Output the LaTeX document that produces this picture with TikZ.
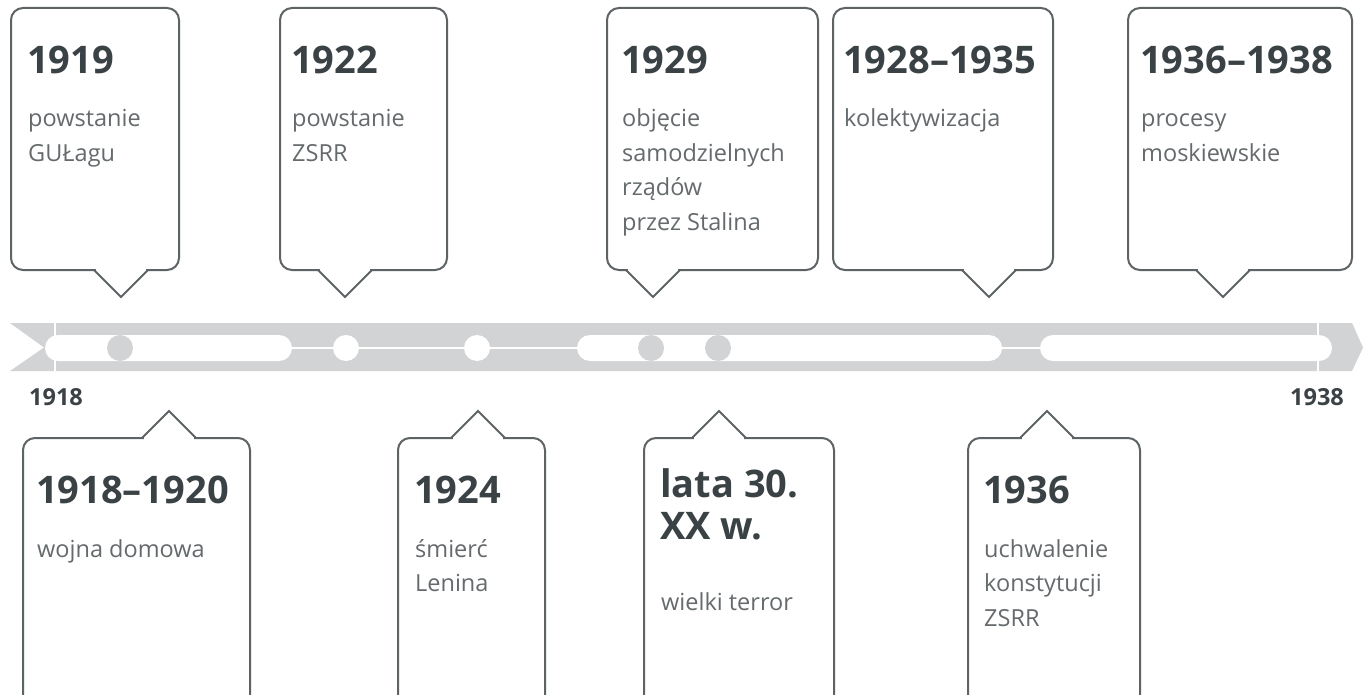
\documentclass[tikz,border=0pt]{standalone}
\usepackage{fontspec}
\setmainfont{Open Sans}
\definecolor{bargray}{HTML}{D1D3D4}
\definecolor{outline}{HTML}{5E6466}
\definecolor{yeartext}{HTML}{3B4245}
\definecolor{bodytext}{HTML}{656A6D}
\tikzset{
  boxline/.style={draw=outline, line width=2pt},
  yearlbl/.style={anchor=base west, inner sep=0pt, text=yeartext, font=\fontsize{38}{42}\selectfont\bfseries},
  bodylbl/.style={anchor=base west, inner sep=0pt, text=bodytext, font=\fontsize{23.5}{34.5}\selectfont},
  axislbl/.style={anchor=base west, inner sep=0pt, text=yeartext, font=\fontsize{23.5}{26}\selectfont\bfseries},
  capsule/.style={fill=white, rounded corners=13pt},
  track/.style={draw=white, line width=2pt},
}
\newcommand\tlTopBox[3]{%
  \draw[boxline, fill=white, rounded corners=12pt] (#1,8) rectangle (#2,270);
  \fill[white] ({#3-25},267) rectangle ({#3+25},273);
  \draw[boxline, line join=miter] ({#3-27},270) -- (#3,297) -- ({#3+27},270);
}
\newcommand\tlBotBox[3]{%
  \draw[boxline, fill=white, rounded corners=12pt] (#1,438) rectangle (#2,730);
  \fill[white] ({#3-25},435) rectangle ({#3+25},441);
  \draw[boxline, line join=miter] ({#3-27},438) -- (#3,411) -- ({#3+27},438);
}
\begin{document}
\begin{tikzpicture}[x=1pt,y=-1pt]
\useasboundingbox (0,0) rectangle (1364,695);
\clip (0,0) rectangle (1364,695);
\fill[white] (0,0) rectangle (1364,695);

% ---- timeline bar ----
\fill[bargray] (10,323) -- (1352,323) -- (1363,347.5) -- (1352,371) -- (10,371) -- (44,347.5) -- cycle;
\fill[capsule] (45,335) rectangle (292,361);
\fill[capsule] (577,335) rectangle (1002,361);
\fill[capsule] (1040,335) rectangle (1332,361);
\draw[track] (55,323) -- (55,371);
\draw[track] (1318,323) -- (1318,371);
\draw[track] (292,348) -- (577,348);
\draw[track] (1002,348) -- (1040,348);
\fill[white] (346,348) circle (13);
\fill[white] (477,348) circle (13);
\fill[bargray] (120,348) circle (13);
\fill[bargray] (651,348) circle (13);
\fill[bargray] (718,348) circle (13);

\node[axislbl] (y1918) at (29,405) {1918};
\node[axislbl] (y1938) at (1290,405) {1938};

% ---- top boxes ----
\tlTopBox{11}{179}{121}
\node[yearlbl] (t1) at (27,74) {1919};
\node[bodylbl] (t1a) at (28,127) {powstanie};
\node[bodylbl] (t1b) at (28,161.5) {GUŁagu};

\tlTopBox{280}{447}{345}
\node[yearlbl] (t2) at (291,74) {1922};
\node[bodylbl] (t2a) at (292,127) {powstanie};
\node[bodylbl] (t2b) at (292,161.5) {ZSRR};

\tlTopBox{607}{818}{653}
\node[yearlbl] (t3) at (621,74) {1929};
\node[bodylbl] (t3a) at (622,127) {objęcie};
\node[bodylbl] (t3b) at (622,161.5) {samodzielnych};
\node[bodylbl] (t3c) at (622,196) {rządów};
\node[bodylbl] (t3d) at (622,230.5) {przez Stalina};

\tlTopBox{833}{1053}{989}
\node[yearlbl] (t4) at (843,74) {1928–1935};
\node[bodylbl] (t4a) at (844,127) {kolektywizacja};

\tlTopBox{1128}{1352}{1223}
\node[yearlbl] (t5) at (1140,74) {1936–1938};
\node[bodylbl] (t5a) at (1141,127) {procesy};
\node[bodylbl] (t5b) at (1141,161.5) {moskiewskie};

% ---- bottom boxes ----
\tlBotBox{23}{250}{169}
\node[yearlbl] (b1) at (36,503) {1918–1920};
\node[bodylbl] (b1a) at (37,557) {wojna domowa};

\tlBotBox{398}{545}{478}
\node[yearlbl] (b2) at (414,503) {1924};
\node[bodylbl] (b2a) at (415,557) {śmierć};
\node[bodylbl] (b2b) at (415,591.5) {Lenina};

\tlBotBox{644}{834}{719}
\node[yearlbl] (b3) at (660,497) {lata 30.};
\node[yearlbl] (b3b) at (660,539) {XX w.};
\node[bodylbl] (b3a) at (661,610) {wielki terror};

\tlBotBox{968}{1140}{1047}
\node[yearlbl] (b4) at (983,503) {1936};
\node[bodylbl] (b4a) at (984,557) {uchwalenie};
\node[bodylbl] (b4b) at (984,591.5) {konstytucji};
\node[bodylbl] (b4c) at (984,626) {ZSRR};
\end{tikzpicture}
\end{document}
